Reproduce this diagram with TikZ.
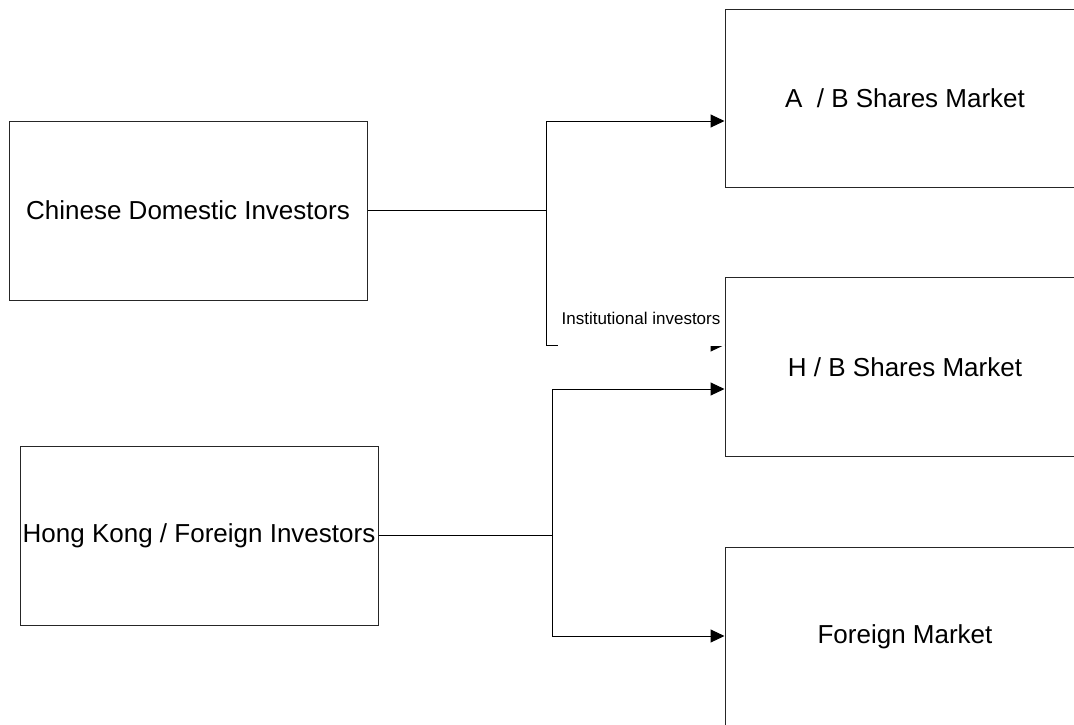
\documentclass[tikz,border=0pt]{standalone}
\usepackage{fontspec}
\setmainfont{Liberation Sans}
\usetikzlibrary{arrows.meta}
\begin{document}
\begin{tikzpicture}[x=1pt,y=-1pt,
  box/.style={draw=black!85,line width=1pt,minimum width=#1,minimum height=179pt,inner sep=0pt,font=\fontsize{26}{30}\selectfont},
  box/.default=358pt,
  conn/.style={line width=1pt,draw=black},
  arr/.style={conn,-{Triangle[length=14pt,width=13pt]}},
  lbl/.style={fill=white,inner xsep=4pt,inner ysep=0pt,text height=24pt,text depth=21.5pt,font=\fontsize{17}{20}\selectfont}]
\useasboundingbox (0,0) rectangle (1074,724);
\clip (0,0) rectangle (1074,724);
\fill[white] (0,0) rectangle (1074,724);
% investor boxes
\node[box] (cdi) at (188,210.5) {Chinese Domestic Investors};
\node[box] (hkf) at (199,535.5) {Hong Kong / Foreign Investors};
% market boxes
\node[box=360pt,minimum height=178pt] (ab) at (905,98) {A~~/ B Shares Market};
\node[box=360pt] (hb) at (905,367) {H / B Shares Market};
\node[box=360pt] (fm) at (905,636.5) {Foreign Market};
% junction coordinates
\coordinate (j1) at (546,210);
\coordinate (j2) at (552,535);
% Chinese domestic connectors
\draw[conn] (cdi.east |- j1) -- (j1);
\draw[arr] (j1) |- (ab.west |- 0,121);
\draw[arr] (j1) |- (hb.west |- 0,345);
\node[lbl,anchor=base] (inst) at (641,324) {Institutional investors};
% Hong Kong / foreign connectors
\draw[conn] (hkf.east |- j2) -- (j2);
\draw[arr] (j2) |- (hb.west |- 0,389);
\draw[arr] (j2) |- (fm.west |- 0,636);
\end{tikzpicture}
\end{document}
